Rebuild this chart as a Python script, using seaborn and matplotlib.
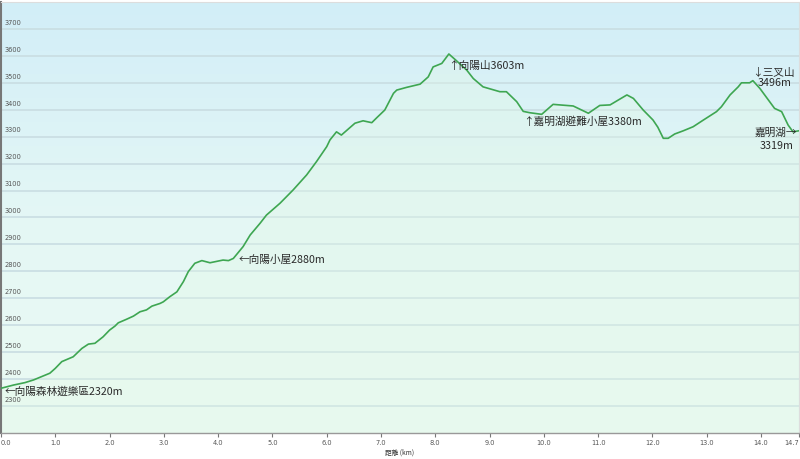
import numpy as np
import pandas as pd
import matplotlib
matplotlib.use("Agg")
import matplotlib.pyplot as plt
import matplotlib.transforms as mtransforms
from matplotlib.colors import LinearSegmentedColormap
import seaborn as sns

# ---------------------------------------------------
# DATA
# ---------------------------------------------------

dist_km = [0.00, 0.23, 0.44, 0.60, 0.90, 1.00, 1.12, 1.33, 1.49, 1.61, 1.73, 1.88,
           2.00, 2.10, 2.16, 2.31, 2.44, 2.56, 2.68, 2.78, 2.93, 2.99, 3.11, 3.24,
           3.36, 3.45, 3.57, 3.70, 3.85, 4.09, 4.19, 4.28, 4.46, 4.59, 4.77, 4.89,
           5.14, 5.38, 5.63, 5.81, 6.00, 6.06, 6.18, 6.27, 6.52, 6.67, 6.83, 6.92,
           7.07, 7.23, 7.29, 7.47, 7.72, 7.87, 7.96, 8.12, 8.25, 8.39, 8.58, 8.70,
           8.88, 9.19, 9.31, 9.50, 9.62, 9.74, 9.96, 10.17, 10.29, 10.54, 10.82,
           11.03, 11.22, 11.37, 11.53, 11.65, 11.83, 12.01, 12.10, 12.20, 12.29,
           12.41, 12.57, 12.75, 12.94, 13.18, 13.27, 13.43, 13.58, 13.64, 13.79,
           13.85, 13.98, 14.25, 14.38, 14.50, 14.59, 14.70]
elev_m = [2366, 2378, 2387, 2397, 2422, 2440, 2465, 2483, 2514, 2530, 2533, 2557,
          2582, 2597, 2609, 2622, 2634, 2650, 2657, 2671, 2681, 2687, 2706, 2724,
          2762, 2799, 2830, 2840, 2832, 2842, 2840, 2848, 2892, 2935, 2978, 3009,
          3053, 3102, 3158, 3207, 3263, 3288, 3318, 3306, 3350, 3359, 3352, 3370,
          3399, 3461, 3473, 3483, 3495, 3522, 3559, 3572, 3607, 3582, 3547, 3516,
          3485, 3467, 3467, 3430, 3394, 3389, 3383, 3420, 3418, 3414, 3387,
          3416, 3418, 3436, 3455, 3442, 3399, 3362, 3335, 3294, 3294,
          3310, 3322, 3337, 3362, 3393, 3411, 3455, 3485, 3500, 3500,
          3508, 3479, 3405, 3393, 3343, 3318, 3322]

x_ticks = [0, 1, 2, 3, 4, 5, 6, 7, 8, 9, 10, 11, 12, 13, 14, 14.7]
y_ticks = [2300, 2400, 2500, 2600, 2700, 2800, 2900, 3000, 3100, 3200, 3300,
           3400, 3500, 3600, 3700]

# waypoint labels: (text, km, elevation, alignment)
labels = [
    ("←向陽森林遊樂區2320m", 0.07, 2353, "left"),
    ("←向陽小屋2880m", 4.38, 2842, "left"),
    ("↑向陽山3603m", 8.24, 3562, "left"),
    ("↑嘉明湖避難小屋3380m", 9.61, 3356, "left"),
    ("↓三叉山", 13.83, 3537, "left"),
    ("3496m", 13.94, 3500, "left"),
    ("嘉明湖→", 14.66, 3315, "right"),
    ("3319m", 14.59, 3266, "right"),
]

df = pd.DataFrame({"dist": dist_km, "elev": elev_m})

# ---------------------------------------------------
# PLOT
# ---------------------------------------------------

sns.set_style("white")
plt.rcParams["font.family"] = ["Noto Sans CJK TC", "DejaVu Sans"]

fig = plt.figure(figsize=(8, 4.59), dpi=100)
ax = fig.add_axes([1 / 800, 26 / 459, 798 / 800, 431 / 459])

XMIN, XMAX, YMIN, YMAX = 0, 14.7, 2200, 3800
ax.set_xlim(XMIN, XMAX)
ax.set_ylim(YMIN, YMAX)

# vertical background gradient, light blue -> mint
cmap = LinearSegmentedColormap.from_list("bg", ["#ecfbf3", "#e4f7f5", "#d2eef8"])
grad = np.linspace(0, 1, 256).reshape(-1, 1)
ax.imshow(grad, cmap=cmap, aspect="auto", origin="lower",
          extent=[XMIN, XMAX, YMIN, YMAX], zorder=0)

for v in y_ticks:
    ax.axhline(v, color="#c9dde2", lw=1.2, zorder=1)

ax.fill_between(df["dist"], df["elev"], YMIN, color="#e2f8e6", alpha=0.35, zorder=2)
sns.lineplot(data=df, x="dist", y="elev", ax=ax, color="#3ea652", lw=1.2, zorder=3)

# y labels sit inside the plot, just above their gridline
trans = mtransforms.blended_transform_factory(ax.transAxes, ax.transData)
for v in y_ticks:
    ax.text(0.005, v + 12, str(v), transform=trans, fontsize=4.8,
            color="#555555", ha="left", va="bottom", family="DejaVu Sans")
ax.set_yticks([])
ax.set_ylabel("")

ax.set_xticks(x_ticks)
tick_labels = ax.set_xticklabels([f"{t:.1f}" for t in x_ticks], fontsize=4.8,
                                 color="#555555", family="DejaVu Sans")
tick_labels[0].set_ha("left")
tick_labels[-1].set_ha("right")
ax.tick_params(axis="x", length=3, width=0.8, color="#777777", pad=2, bottom=True)
ax.set_xlabel("距離 (km)", fontsize=4.8, color="#333333", labelpad=2)

for name, x, y, ha in labels:
    ax.text(x, y, name, fontsize=7.7, color="#2a2a2a", ha=ha, va="center", zorder=4)

for side in ["top", "right"]:
    ax.spines[side].set_color("#dddddd")
    ax.spines[side].set_linewidth(0.8)
ax.spines["left"].set_color("#777777")
ax.spines["left"].set_linewidth(1.5)
ax.spines["bottom"].set_color("#999999")
ax.spines["bottom"].set_linewidth(1.0)

plt.savefig("out.png", dpi=100)
plt.close()
